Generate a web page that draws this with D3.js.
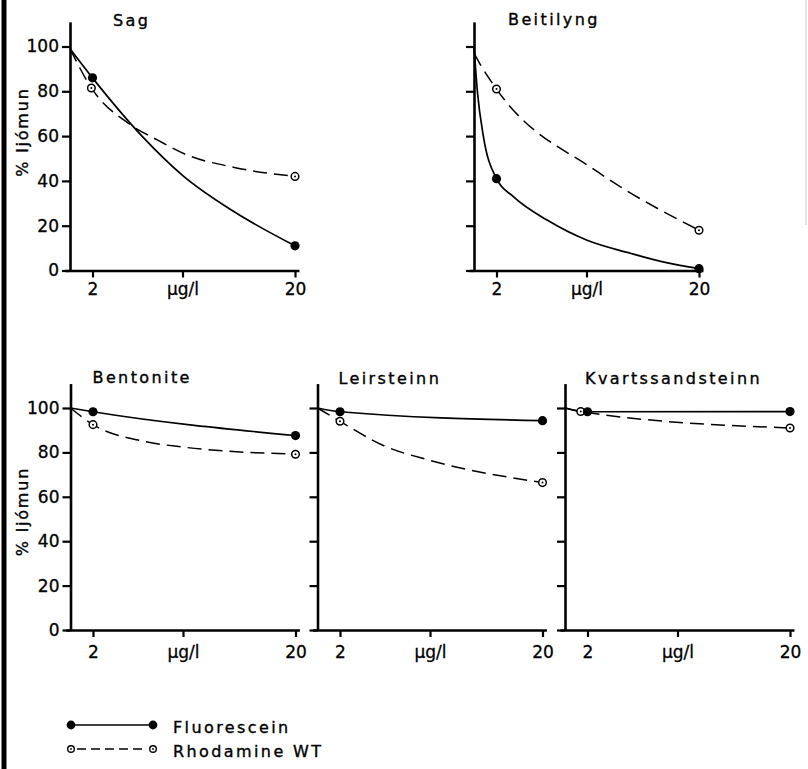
<!DOCTYPE html>
<html>
<head>
<meta charset="utf-8">
<script src="https://cdn.jsdelivr.net/npm/d3@7"></script>
<style>
  body { margin: 0; background: #fff; }
  svg { display: block; font-family: "DejaVu Sans", sans-serif; }
  .title, .legend-label { font-size: 16px; letter-spacing: 2.4px; stroke: #000; stroke-width: 0.35px; }
  .ytitle { font-size: 16px; letter-spacing: 1.8px; stroke: #000; stroke-width: 0.35px; }
  .tick text { stroke: #000; stroke-width: 0.3px; }
</style>
</head>
<body>
<svg id="chart" width="808" height="769"></svg>
<script>
// panels: soil / rock types
const panelNames = ["Sag", "Beitilyng", "Bentonite", "Leirsteinn", "Kvartssandsteinn"];

// axis ticks
const xTickValues = [2, 10, 20];
const xTickLabels = ["2", "\u03bcg/l", "20"];
const yTickValues = [0, 20, 40, 60, 80, 100];
const yTickLabels = ["0", "20", "40", "60", "80", "100"];

// measured points (x in µg/l, y in % ljómun)
const fluoresceinPoints = [
  [[2, 86], [20, 11]],
  [[2, 41], [20, 0.8]],
  [[2, 98.3], [20, 87.6]],
  [[2, 98.3], [20, 94.3]],
  [[2, 98.3], [20, 98.4]]
];
const rhodaminePoints = [
  [[1.9, 81.5], [20, 42]],
  [[2, 81], [20, 18]],
  [[2, 92.5], [20, 79.2]],
  [[2, 94], [20, 66.4]],
  [[1.4, 98.4], [20, 91]]
];

// drawn curves
const fluoresceinCurves = [
  [[0, 99], [2, 86], [6.4, 60], [10, 42.5], [14.6, 26.2], [20, 11]],
  [[0, 100], [0.3, 80], [0.83, 60], [2, 41], [3.5, 33], [6.5, 22.5], [10, 13.6], [13.9, 7.7], [17.1, 3.5], [20, 0.8]],
  [[0, 100], [2, 98.3], [20, 87.6]],
  [[0, 100], [2, 98.3], [20, 94.3]],
  [[0, 100], [2, 98.3], [20, 98.4]]
];
const rhodamineCurves = [
  [[0, 99], [1.9, 81.5], [5.4, 65], [7.8, 58.2], [10.2, 52], [14.6, 46], [20, 42]],
  [[0, 97], [0.5, 92.5], [2, 81], [11, 44], [20, 18]],
  [[0, 100], [2, 92.5], [6.5, 85], [10, 82.4], [20, 79.2]],
  [[0, 100], [2, 94], [5.9, 83], [10, 76.4], [20, 66.4]],
  [[0, 100], [1.4, 98.4], [20, 91]]
];

const legendNames = ["Fluorescein", "Rhodamine WT"];

// layout (pixel positions of each panel's origin)
const layout = [
  { x0: 70,    y0: 270.5, ky: 2.24, titleDx: 43, titleY: 26,  yTitleY: 132,   labelPad: 5 },
  { x0: 474,   y0: 270.5, ky: 2.24, titleDx: 34, titleY: 25,  yTitleY: null,  labelPad: 5 },
  { x0: 70.5,  y0: 630,   ky: 2.22, titleDx: 22, titleY: 383, yTitleY: 511.5, labelPad: 9 },
  { x0: 317.5, y0: 630,   ky: 2.22, titleDx: 21, titleY: 384, yTitleY: null,  labelPad: 9 },
  { x0: 565,   y0: 630,   ky: 2.22, titleDx: 20, titleY: 384, yTitleY: null,  labelPad: 9 }
];
const kx = 11.25;

const svg = d3.select("#chart");

// thick scan border on the left, faint one on the right
svg.append("line").attr("x1", 4).attr("x2", 4).attr("y1", 0).attr("y2", 769)
  .attr("stroke", "#000").attr("stroke-width", 5);
svg.append("line").attr("x1", 806).attr("x2", 806).attr("y1", 0).attr("y2", 225)
  .attr("stroke", "#ccc").attr("stroke-width", 1);

const curve = d3.line()
  .curve(d3.curveMonotoneX);

panelNames.forEach((name, i) => {
  const L = layout[i];
  const hasLabels = L.yTitleY !== null;
  const x = d3.scaleLinear().domain([-0.45, 20.35]).range([L.x0 - 0.45 * kx, L.x0 + 20.35 * kx]);
  const y = d3.scaleLinear().domain([0, 111]).range([L.y0, L.y0 - 111 * L.ky]);
  const g = svg.append("g");

  // y axis
  const yAxis = g.append("g")
    .attr("transform", `translate(${x(0)},0)`)
    .call(d3.axisLeft(y).tickValues(yTickValues).tickSize(8).tickSizeOuter(0).tickPadding(3)
      .tickFormat((d, j) => hasLabels ? yTickLabels[j] : ""));

  // x axis
  const xAxis = g.append("g")
    .attr("transform", `translate(0,${y(0)})`)
    .call(d3.axisBottom(x).tickValues(xTickValues).tickSize(7).tickSizeOuter(0).tickPadding(L.labelPad)
      .tickFormat((d, j) => xTickLabels[j]));

  [yAxis, xAxis].forEach(a => {
    a.attr("font-family", null).attr("font-size", 17);
    a.select(".domain").attr("stroke-width", 2.6);
    a.selectAll(".tick line").attr("stroke-width", 2.2);
  });

  // panel title
  g.append("text").attr("class", "title")
    .attr("x", x(0) + L.titleDx).attr("y", L.titleY)
    .text(name);

  if (hasLabels) {
    g.append("text").attr("class", "ytitle")
      .attr("transform", `translate(28,${L.yTitleY}) rotate(-90)`)
      .attr("text-anchor", "middle")
      .text("% lj\u00f3mun");
  }

  curve.x(d => x(d[0])).y(d => y(d[1]));

  g.append("path").attr("d", curve(rhodamineCurves[i]))
    .attr("fill", "none").attr("stroke", "#000").attr("stroke-width", 1.5)
    .attr("stroke-dasharray", "14,7");
  g.append("path").attr("d", curve(fluoresceinCurves[i]))
    .attr("fill", "none").attr("stroke", "#000").attr("stroke-width", 1.7);

  g.selectAll(".rmark").data(rhodaminePoints[i]).enter().append("circle")
    .attr("cx", d => x(d[0])).attr("cy", d => y(d[1])).attr("r", 3.8)
    .attr("fill", "#fff").attr("stroke", "#000").attr("stroke-width", 1.5);
  g.selectAll(".rdot").data(rhodaminePoints[i]).enter().append("circle")
    .attr("cx", d => x(d[0])).attr("cy", d => y(d[1])).attr("r", 1);
  g.selectAll(".fmark").data(fluoresceinPoints[i]).enter().append("circle")
    .attr("cx", d => x(d[0])).attr("cy", d => y(d[1])).attr("r", 4.6)
    .attr("fill", "#000");
});

// legend
const legend = svg.append("g");
legendNames.forEach((name, i) => {
  const ly = 725 + i * 24;
  const row = legend.append("g");
  row.append("line").attr("x1", 71).attr("x2", 153).attr("y1", ly).attr("y2", ly)
    .attr("stroke", "#000").attr("stroke-width", i ? 1.4 : 1.7)
    .attr("stroke-dasharray", i ? "0,6,9,5,9,5,9,5,9,5,9,4" : null);
  [71, 153].forEach(cx => {
    if (i === 0) {
      row.append("circle").attr("cx", cx).attr("cy", ly).attr("r", 4.4).attr("fill", "#000");
    } else {
      row.append("circle").attr("cx", cx).attr("cy", ly).attr("r", 3.3)
        .attr("fill", "#fff").attr("stroke", "#000").attr("stroke-width", 1.4);
      row.append("circle").attr("cx", cx).attr("cy", ly).attr("r", 0.9);
    }
  });
  row.append("text").attr("class", "legend-label")
    .attr("x", 173).attr("y", ly + 8)
    .text(name);
});
</script>
</body>
</html>
